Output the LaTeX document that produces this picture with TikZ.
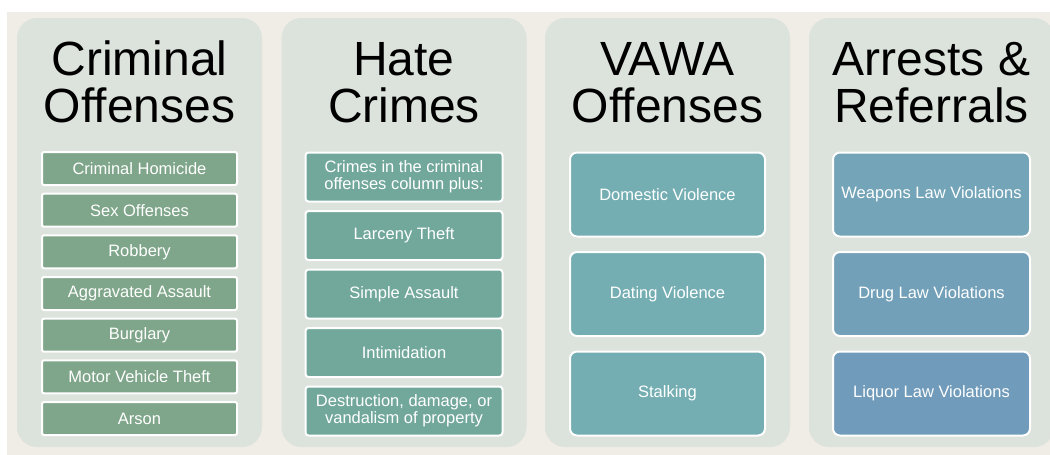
\documentclass[tikz,border=0pt]{standalone}
\usepackage{fontspec}
\setmainfont{Liberation Sans}
\definecolor{bgbeige}{RGB}{240,237,230}
\definecolor{panelfill}{RGB}{220,226,220}
\definecolor{cA}{RGB}{127,166,138}
\definecolor{cB}{RGB}{114,168,155}
\definecolor{cC}{RGB}{116,174,178}
\definecolor{cD1}{RGB}{116,164,184}
\definecolor{cD2}{RGB}{114,160,184}
\definecolor{cD3}{RGB}{112,155,186}
\tikzset{
  panel/.style={fill=panelfill, rounded corners=20pt, minimum width=245pt, minimum height=429pt, inner sep=0pt},
  titletext/.style={anchor=base, inner sep=0pt, font=\fontsize{48}{47}\selectfont, text=black},
  itembox/.style={draw=white, line width=2pt, rounded corners=3pt, text=white, align=center, inner sep=0pt,
    font=\fontsize{16.5}{17}\selectfont},
  smallbox/.style={itembox, minimum width=195pt, minimum height=33pt, rounded corners=2pt},
  midbox/.style={itembox, minimum width=197pt, minimum height=49pt},
  bigbox/.style={itembox, minimum width=195pt, minimum height=84pt, rounded corners=7pt},
}
\begin{document}
\begin{tikzpicture}[x=1pt,y=-1pt]
\useasboundingbox (0,0) rectangle (1050,455);
\clip (0,0) rectangle (1050,455);
\fill[white] (0,0) rectangle (1050,455);
\fill[bgbeige] (7,12) rectangle (1050,455);
% panels
\node[panel] (p1) at (139.5,232.5) {};
\node[panel] (p2) at (404,232.5) {};
\node[panel] (p3) at (667.5,232.5) {};
\node[panel] (p4) at (931.5,232.5) {};
% titles
\node[titletext] (t1a) at (139.5,75) {Criminal};
\node[titletext] (t1b) at (139.5,122) {Offenses};
\node[titletext] (t2a) at (404,75) {Hate};
\node[titletext] (t2b) at (404,122) {Crimes};
\node[titletext] (t3a) at (667.5,75) {VAWA};
\node[titletext] (t3b) at (667.5,122) {Offenses};
\node[titletext] (t4a) at (931.5,75) {Arrests \&};
\node[titletext] (t4b) at (931.5,122) {Referrals};
% column 1
\node[smallbox, fill=cA] (a1) at (139.5,168.5) {Criminal Homicide};
\node[smallbox, fill=cA] (a2) at (139.5,210.2) {Sex Offenses};
\node[smallbox, fill=cA] (a3) at (139.5,251.8) {Robbery};
\node[smallbox, fill=cA] (a4) at (139.5,293.5) {Aggravated Assault};
\node[smallbox, fill=cA] (a5) at (139.5,335.2) {Burglary};
\node[smallbox, fill=cA] (a6) at (139.5,376.8) {Motor Vehicle Theft};
\node[smallbox, fill=cA] (a7) at (139.5,418.5) {Arson};
% column 2
\node[midbox, fill=cB] (b1) at (404,177) {Crimes in the criminal\\offenses column plus:};
\node[midbox, fill=cB] (b2) at (404,235.5) {Larceny Theft};
\node[midbox, fill=cB] (b3) at (404,294) {Simple Assault};
\node[midbox, fill=cB] (b4) at (404,352.5) {Intimidation};
\node[midbox, fill=cB] (b5) at (404,411) {Destruction, damage, or\\vandalism of property};
% column 3
\node[bigbox, fill=cC] (c1) at (667.5,194.5) {Domestic Violence};
\node[bigbox, fill=cC] (c2) at (667.5,294) {Dating Violence};
\node[bigbox, fill=cC] (c3) at (667.5,393.5) {Stalking};
% column 4
\node[bigbox, fill=cD1, minimum width=197pt] (d1) at (931.5,194.5) {Weapons Law Violations};
\node[bigbox, fill=cD2, minimum width=197pt] (d2) at (931.5,294) {Drug Law Violations};
\node[bigbox, fill=cD3, minimum width=197pt] (d3) at (931.5,393.5) {Liquor Law Violations};
\end{tikzpicture}
\end{document}
